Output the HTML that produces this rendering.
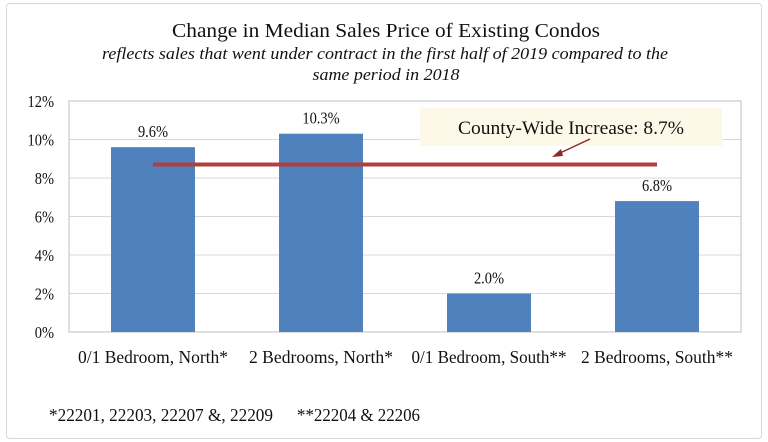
<!DOCTYPE html>
<html><head><meta charset="utf-8"><style>
html,body{margin:0;padding:0;background:#fff}
svg{display:block;font-family:"Liberation Serif",serif}
</style></head><body>
<svg id="c" width="768" height="442" viewBox="0 0 768 442">
<rect x="6.5" y="3.5" width="755" height="435" rx="3" fill="#fff" stroke="#d9d9d9"/>
<text x="386" y="37" font-size="20" text-anchor="middle" textLength="428" lengthAdjust="spacingAndGlyphs" fill="#111">Change in Median Sales Price of Existing Condos</text>
<text x="385" y="59" font-size="17" font-style="italic" text-anchor="middle" textLength="566" lengthAdjust="spacingAndGlyphs" fill="#111">reflects sales that went under contract in the first half of 2019 compared to the</text>
<text x="386" y="80" font-size="17" font-style="italic" text-anchor="middle" textLength="147" lengthAdjust="spacingAndGlyphs" fill="#111">same period in 2018</text>
<g id="grid"></g>
<g id="bars"></g>
<rect x="420" y="108" width="302" height="38" fill="#fdf8e8"/>
<text x="571" y="134" font-size="19" text-anchor="middle" textLength="226" lengthAdjust="spacingAndGlyphs" fill="#111">County-Wide Increase: 8.7%</text>
<line x1="590" y1="139" x2="558" y2="154" stroke="#8b2a2a" stroke-width="1.5"/>
<polygon points="552,157 561,149 563,156" fill="#8b2a2a"/>
<g id="ref"></g>
<text x="49" y="421" font-size="18" textLength="224" lengthAdjust="spacingAndGlyphs" fill="#111">*22201, 22203, 22207 &amp;, 22209</text>
<text x="297" y="421" font-size="18" textLength="123" lengthAdjust="spacingAndGlyphs" fill="#111">**22204 &amp; 22206</text>
</svg>
<script>
const categories=["0/1 Bedroom, North*","2 Bedrooms, North*","0/1 Bedroom, South**","2 Bedrooms, South**"];
const values=[9.6,10.3,2.0,6.8];
const valueLabels=["9.6%","10.3%","2.0%","6.8%"];
const countyWide=[8.7];
const yTicks=[0,2,4,6,8,10,12];
const yTickLabels=["0%","2%","4%","6%","8%","10%","12%"];
const catWidths=[150,144,155,152];
const NS="http://www.w3.org/2000/svg";
const L=69,R=741,T=101,B=332;
const y=v=>B-(v/12)*(B-T);
const bw=(R-L)/categories.length;
const xc=i=>L+bw*(i+0.5);
function mk(p,tag,a){const e=document.createElementNS(NS,tag);for(const k in a)e.setAttribute(k,a[k]);p.appendChild(e);return e;}
const g=document.getElementById('grid'),gb=document.getElementById('bars'),gr=document.getElementById('ref');
yTicks.forEach((t,i)=>{
 if(t>0){const ln=mk(g,'line',{x1:L,x2:R,y1:y(t),y2:y(t),stroke:'#d9d9d9','stroke-width':1});
 
 }
 const tx=mk(g,'text',{x:54,y:y(t)+6,'font-size':17,'text-anchor':'end',fill:'#111',transform:`translate(54 0) scale(0.85 1) translate(-54 0)`});
 tx.textContent=yTickLabels[i];
 
 
});
const fr=mk(g,'rect',{x:L,y:T,width:R-L,height:B-T,fill:'none',stroke:'#bfbfbf'});


values.forEach((v,i)=>{
 const w=84;
 const r=mk(gb,'rect',{x:xc(i)-w/2,y:y(v),width:w,height:B-y(v),fill:'#4f81bd'});
 
 
 const t=mk(gb,'text',{x:xc(i),y:y(v)-10,'font-size':17,'text-anchor':'middle',fill:'#111',transform:`translate(${xc(i)} 0) scale(0.85 1) translate(${-xc(i)} 0)`});
 t.textContent=valueLabels[i];
 
 
 const c=mk(gb,'text',{x:xc(i),y:363,'font-size':18,'text-anchor':'middle',fill:'#111',textLength:catWidths[i],lengthAdjust:'spacingAndGlyphs'});
 c.textContent=categories[i];
 
 
});
const rl=mk(gr,'line',{x1:xc(0),x2:xc(3),y1:y(countyWide[0]),y2:y(countyWide[0]),stroke:'#b0403e','stroke-width':4});


</script>
</body></html>
